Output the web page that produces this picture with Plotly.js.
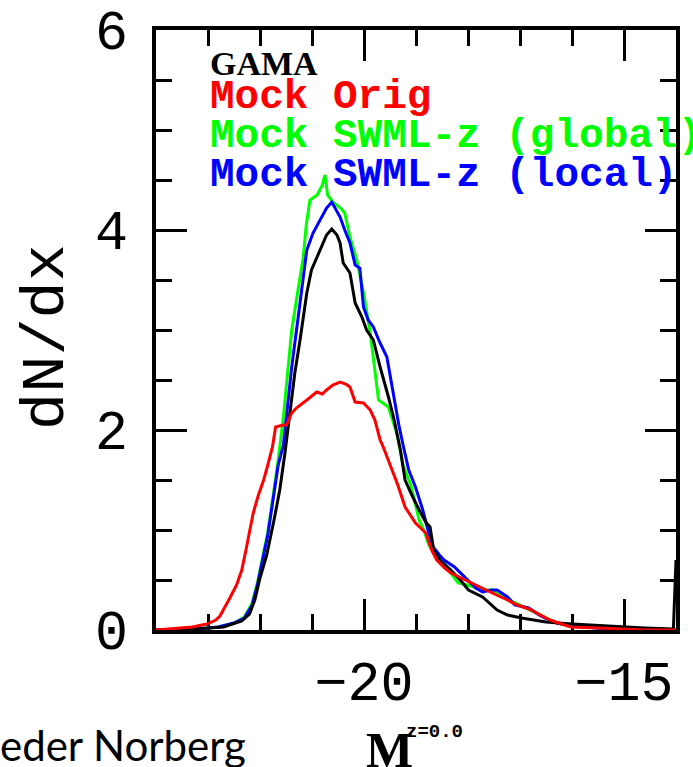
<!DOCTYPE html>
<html>
<head>
<meta charset="utf-8">
<script src="https://cdn.plot.ly/plotly-3.0.1.min.js"></script>
<style>
html,body{margin:0;padding:0;background:#fff;}
#chart{width:693px;height:767px;}
</style>
</head>
<body>
<div id="chart"></div>
<script>
// ---- Data ----
const gamaX = [-24.0, -23.3, -23.0, -22.7, -22.5, -22.35, -22.2, -22.1, -22.0, -21.87, -21.73, -21.62, -21.52, -21.45, -21.33, -21.23, -21.10, -21.01, -20.85, -20.72, -20.62, -20.52, -20.46, -20.40, -20.27, -20.17, -20.04, -19.95, -19.82, -19.69, -19.53, -19.42, -19.30, -19.21, -19.08, -18.94, -18.80, -18.73, -18.66, -18.54, -18.33, -18.15, -17.99, -17.72, -17.44, -17.24, -16.97, -16.76, -16.50, -16.0, -15.4, -14.6, -14.05, -14.0];
const gamaY = [0, 0.01, 0.02, 0.03, 0.06, 0.09, 0.16, 0.30, 0.52, 0.75, 1.10, 1.40, 1.77, 2.05, 2.57, 2.90, 3.37, 3.60, 3.80, 3.95, 4.01, 3.95, 3.87, 3.67, 3.57, 3.27, 3.13, 3.00, 2.90, 2.63, 2.33, 2.10, 1.80, 1.50, 1.35, 1.20, 1.07, 1.03, 0.80, 0.70, 0.60, 0.50, 0.40, 0.33, 0.20, 0.15, 0.12, 0.10, 0.08, 0.06, 0.04, 0.02, 0.01, 0.70];

const origX = [-24.0, -23.6, -23.3, -23.02, -22.85, -22.77, -22.65, -22.58, -22.45, -22.35, -22.27, -22.2, -22.13, -22.03, -21.93, -21.85, -21.76, -21.70, -21.55, -21.49, -21.39, -21.30, -21.17, -21.05, -20.91, -20.80, -20.72, -20.60, -20.46, -20.35, -20.27, -20.17, -20.01, -19.88, -19.79, -19.69, -19.63, -19.48, -19.35, -19.21, -19.01, -18.81, -18.70, -18.60, -18.45, -18.33, -18.06, -17.85, -17.65, -17.45, -17.24, -17.05, -16.83, -16.6, -16.42, -16.2, -16.02, -15.5, -14.6, -14.0];
const origY = [0, 0.02, 0.03, 0.06, 0.10, 0.14, 0.25, 0.32, 0.45, 0.60, 0.80, 0.98, 1.17, 1.35, 1.50, 1.65, 1.83, 2.03, 2.05, 2.05, 2.17, 2.22, 2.27, 2.32, 2.38, 2.36, 2.40, 2.45, 2.48, 2.46, 2.43, 2.28, 2.27, 2.20, 2.10, 1.90, 1.83, 1.63, 1.45, 1.23, 1.07, 0.97, 0.80, 0.70, 0.62, 0.57, 0.50, 0.45, 0.40, 0.35, 0.30, 0.25, 0.21, 0.15, 0.10, 0.06, 0.03, 0.02, 0.0, 0.0];

const globalX = [-24.0, -23.2, -22.8, -22.5, -22.3, -22.15, -22.05, -21.95, -21.85, -21.75, -21.65, -21.55, -21.49, -21.39, -21.29, -21.17, -21.11, -21.04, -20.90, -20.80, -20.75, -20.70, -20.60, -20.45, -20.37, -20.27, -20.14, -20.0, -19.88, -19.80, -19.72, -19.53, -19.37, -19.25, -19.10, -18.94, -18.85, -18.75, -18.6, -18.4, -18.19, -18.0, -17.72, -17.51, -17.35, -17.2, -17.0, -16.8, -16.5, -16.3, -16.0, -15.5, -14.0];
const globalY = [0, 0.01, 0.03, 0.07, 0.13, 0.27, 0.47, 0.72, 0.98, 1.33, 1.70, 2.13, 2.47, 3.00, 3.33, 3.72, 4.05, 4.30, 4.35, 4.45, 4.55, 4.35, 4.28, 4.22, 4.17, 3.93, 3.70, 3.35, 2.97, 2.65, 2.30, 2.23, 1.97, 1.65, 1.45, 1.10, 1.00, 0.85, 0.72, 0.62, 0.47, 0.45, 0.40, 0.40, 0.34, 0.30, 0.25, 0.20, 0.12, 0.07, 0.04, 0.02, 0];

const localX = [-24.0, -23.2, -22.8, -22.5, -22.3, -22.15, -22.05, -21.95, -21.85, -21.75, -21.65, -21.55, -21.49, -21.39, -21.29, -21.17, -21.10, -20.98, -20.85, -20.72, -20.62, -20.55, -20.46, -20.37, -20.27, -20.17, -20.08, -20.01, -19.92, -19.82, -19.70, -19.56, -19.48, -19.40, -19.33, -19.24, -19.14, -19.01, -18.87, -18.77, -18.67, -18.55, -18.46, -18.26, -18.1, -17.99, -17.85, -17.72, -17.55, -17.44, -17.3, -17.24, -17.10, -16.83, -16.63, -16.45, -16.29, -16.0, -15.75, -15.3, -14.0];
const localY = [0, 0.01, 0.03, 0.07, 0.12, 0.25, 0.45, 0.70, 0.95, 1.30, 1.65, 1.85, 2.17, 2.63, 3.03, 3.50, 3.80, 3.97, 4.10, 4.22, 4.28, 4.22, 4.13, 4.00, 3.87, 3.65, 3.62, 3.23, 3.10, 3.03, 2.88, 2.73, 2.50, 2.23, 2.05, 1.83, 1.60, 1.43, 1.20, 1.00, 0.83, 0.75, 0.70, 0.63, 0.55, 0.50, 0.42, 0.38, 0.40, 0.40, 0.35, 0.33, 0.25, 0.22, 0.15, 0.10, 0.07, 0.04, 0.03, 0.01, 0];

const seriesNames = ["GAMA", "Mock Orig", "Mock SWML-z (global)", "Mock SWML-z (local)"];
const seriesColors = ["#000000", "#ff0000", "#00ff00", "#0000ff"];

// ---- layout helpers (pixel -> paper) ----
const L = 156, R = 676, T = 30, B = 630;
const px = x => (x - L) / (R - L);
const py = y => (B - y) / (B - T);

const mk = (x, y, i) => ({
  x: x, y: y, type: 'scatter', mode: 'lines', name: seriesNames[i],
  line: {color: seriesColors[i], width: 3}, cliponaxis: false, hoverinfo: 'skip'
});

const traces = [
  mk(globalX, globalY, 2),
  mk(localX, localY, 3),
  mk(gamaX, gamaY, 0),
  mk(origX, origY, 1)
];

const mono = "Liberation Mono, Courier New, monospace";
const legendY = [64, 97, 136, 175];
const annotations = [
  {text: "<b>" + seriesNames[0] + "</b>", font: {family: "Liberation Serif, serif", size: 34, color: seriesColors[0]}},
  {text: "<b>" + seriesNames[1] + "</b>", font: {family: mono, size: 41, color: seriesColors[1]}},
  {text: "<b>" + seriesNames[2] + "</b>", font: {family: mono, size: 41, color: seriesColors[2]}},
  {text: "<b>" + seriesNames[3] + "</b>", font: {family: mono, size: 41, color: seriesColors[3]}}
].map((a, i) => Object.assign(a, {
  xref: 'paper', yref: 'paper', x: px(208), y: py(legendY[i]),
  xanchor: 'left', yanchor: 'middle', showarrow: false
}));

// y axis title
annotations.push({
  text: "dN/dx", textangle: -90, xref: 'paper', yref: 'paper',
  x: px(46), y: py(337), xanchor: 'center', yanchor: 'middle', showarrow: false,
  font: {family: mono, size: 62, color: '#000'}
});
// x axis title: M with super/subscripts
annotations.push({
  text: "<b>M</b>", xref: 'paper', yref: 'paper', x: px(389), y: py(750),
  xanchor: 'center', yanchor: 'middle', showarrow: false,
  font: {family: "Liberation Serif, serif", size: 50, color: '#000'}
});
annotations.push({
  text: "<b>z=0.0</b>", xref: 'paper', yref: 'paper', x: px(434), y: py(732),
  xanchor: 'center', yanchor: 'middle', showarrow: false,
  font: {family: mono, size: 19, color: '#000'}
});
annotations.push({
  text: "<b>r</b>", xref: 'paper', yref: 'paper', x: px(397), y: py(778),
  xanchor: 'center', yanchor: 'middle', showarrow: false,
  font: {family: mono, size: 22, color: '#000'}
});
// slide footer text
annotations.push({
  text: "eder Norberg", xref: 'paper', yref: 'paper', x: px(-2), y: py(745),
  xanchor: 'left', yanchor: 'middle', showarrow: false,
  font: {family: "Lato, sans-serif", size: 42, color: '#000'}
});

const axisCommon = {
  showgrid: false, zeroline: false, showline: true, linecolor: '#000', linewidth: 4,
  mirror: 'ticks', ticks: 'inside', tickcolor: '#000', tickwidth: 3, ticklen: 31,
  layer: 'below traces', fixedrange: true,
  tickfont: {family: mono, size: 55, color: '#000'}
};

const layout = {
  width: 693, height: 767,
  margin: {l: L, r: 693 - R, t: T, b: 767 - B, pad: 0},
  paper_bgcolor: '#fff', plot_bgcolor: '#fff',
  showlegend: false,
  xaxis: Object.assign({}, axisCommon, {
    range: [-24, -14], tick0: -20, dtick: 5,
    ticklabelstandoff: 0,
    minor: {dtick: 1, ticks: 'inside', ticklen: 16, tickwidth: 3, tickcolor: '#000'}
  }),
  yaxis: Object.assign({}, axisCommon, {
    range: [0, 6], tick0: 0, dtick: 2,
    ticklabelstandoff: 13,
    minor: {dtick: 0.5, ticks: 'inside', ticklen: 16, tickwidth: 3, tickcolor: '#000'}
  }),
  annotations: annotations
};

Plotly.newPlot('chart', traces, layout, {displayModeBar: false, staticPlot: true});
</script>
</body>
</html>
